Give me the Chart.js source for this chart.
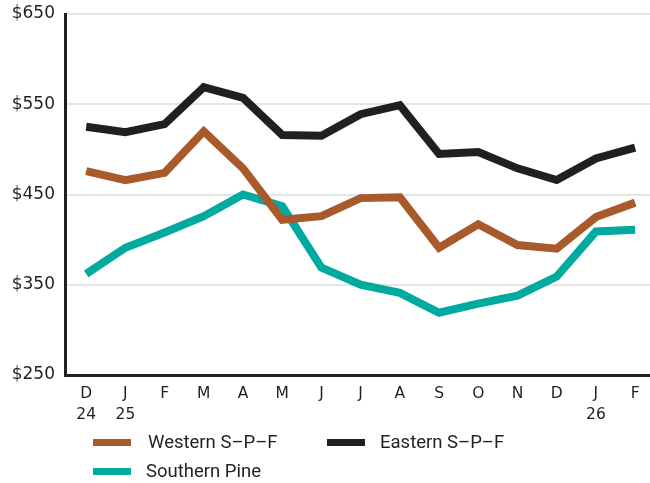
<!DOCTYPE html>
<html>
<head>
<meta charset="utf-8">
<script src="https://cdn.jsdelivr.net/npm/chart.js@4.4.1/dist/chart.umd.min.js"></script>
<style>
  html, body { margin: 0; padding: 0; background: #ffffff; }
  #wrap { position: relative; width: 650px; height: 483px; }
  #legend { position: absolute; left: 0; top: 0; width: 650px; height: 483px; pointer-events: none;
            font-family: Roboto, "Noto Sans", sans-serif; font-size: 18.5px; color: #231f20; }
  .item { position: absolute; display: flex; align-items: center; white-space: nowrap; }
  .sw { display: inline-block; width: 38px; height: 7px; }
</style>
</head>
<body>
<div id="wrap">
  <canvas id="c" width="650" height="483"></canvas>
  <div id="legend"></div>
</div>
<script>
const months = ['D', 'J', 'F', 'M', 'A', 'M', 'J', 'J', 'A', 'S', 'O', 'N', 'D', 'J', 'F'];
const years = ['24', '25', '', '', '', '', '', '', '', '', '', '', '', '26', ''];
const western = [476, 466, 474, 520, 479, 422, 426, 446, 447, 391, 417, 394, 390, 425, 441];
const eastern = [525, 519, 528, 569, 557, 516, 515, 539, 549, 495, 497, 479, 466, 490, 502];
const southern = [362, 391, 408, 426, 450, 437, 369, 350, 341, 319, 329, 338, 359, 409, 411];
const yTicks = [250, 350, 450, 550, 650];

const cWestern = '#a85a2a';
const cEastern = '#231f20';
const cSouthern = '#00aa9e';

const toXY = arr => arr.map((v, i) => ({ x: i, y: v }));

const ds = (label, data, color, order) => ({
  label, data: toXY(data), borderColor: color, backgroundColor: color,
  borderWidth: 8, pointRadius: 0, tension: 0, order,
  borderJoinStyle: 'miter', borderCapStyle: 'butt', fill: false
});

new Chart(document.getElementById('c'), {
  type: 'line',
  data: {
    datasets: [
      ds('Western S\u2013P\u2013F', western, cWestern, 1),
      ds('Eastern S\u2013P\u2013F', eastern, cEastern, 0),
      ds('Southern Pine', southern, cSouthern, 2)
    ]
  },
  options: {
    responsive: false,
    animation: false,
    layout: { padding: { top: 14, right: 0, left: 0, bottom: 0 } },
    plugins: { legend: { display: false }, tooltip: { enabled: false } },
    scales: {
      x: {
        type: 'linear',
        min: -0.54,
        max: 14.38,
        grid: { display: false, drawTicks: false },
        border: { display: true, color: '#231f20', width: 3 },
        afterFit: s => { s.height = 108; s.paddingLeft = 0; s.paddingRight = 0; },
        afterBuildTicks: s => { s.ticks = months.map((m, i) => ({ value: i })); },
        ticks: {
          autoSkip: false, maxRotation: 0, padding: 8, color: '#231f20',
          font: { family: 'DejaVu Sans', size: 15.5, lineHeight: 1.36 },
          callback: v => years[v] ? [months[v], years[v]] : months[v]
        }
      },
      y: {
        min: 250, max: 650,
        afterFit: s => { s.width = 65; s.paddingTop = 0; s.paddingBottom = 0; },
        afterBuildTicks: s => { s.ticks = yTicks.map(v => ({ value: v })); },
        grid: { color: '#e4e5e6', lineWidth: 2, drawTicks: false },
        border: { display: true, color: '#231f20', width: 3 },
        ticks: {
          padding: 10, color: '#231f20',
          font: { family: 'DejaVu Sans', size: 17 },
          callback: v => '$' + v
        }
      }
    }
  }
});

const legendItems = [
  { label: 'Western S\u2013P\u2013F', color: cWestern, x: 93, y: 442, gap: 17 },
  { label: 'Eastern S\u2013P\u2013F', color: cEastern, x: 327, y: 442, gap: 15 },
  { label: 'Southern Pine', color: cSouthern, x: 93, y: 471, gap: 15 }
];
const lg = document.getElementById('legend');
legendItems.forEach(it => {
  const d = document.createElement('div');
  d.className = 'item';
  d.style.left = it.x + 'px';
  d.style.top = (it.y - 12) + 'px';
  d.style.height = '24px';
  const sw = document.createElement('span');
  sw.className = 'sw';
  sw.style.background = it.color;
  sw.style.marginRight = it.gap + 'px';
  const t = document.createElement('span');
  t.textContent = it.label;
  d.appendChild(sw); d.appendChild(t);
  lg.appendChild(d);
});
</script>
</body>
</html>
